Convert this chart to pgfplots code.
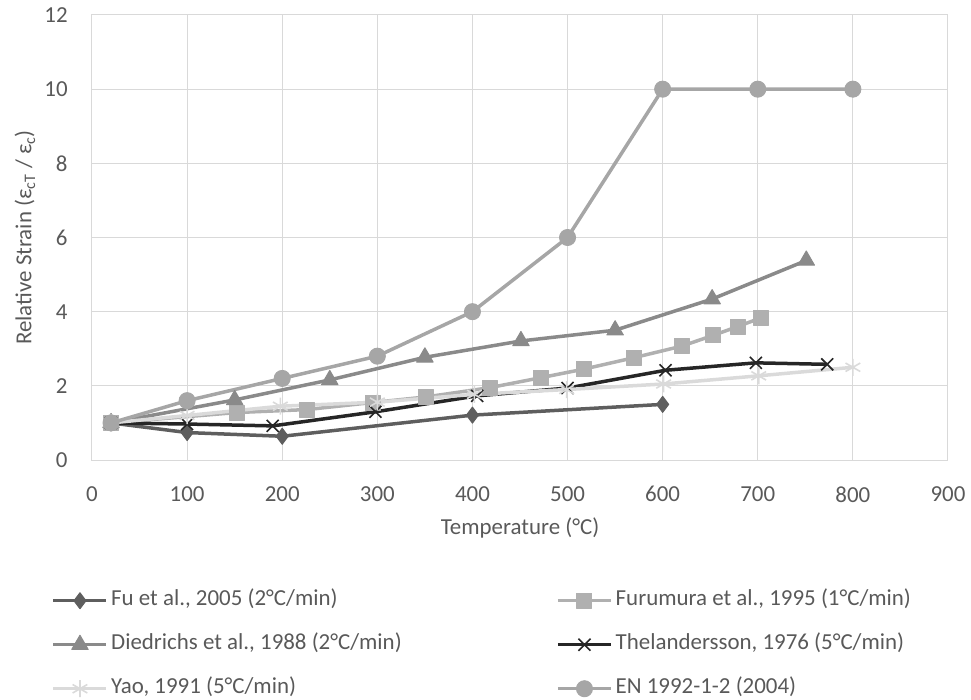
\documentclass[border=0pt]{standalone}
\usepackage{fontspec}
\setmainfont{Carlito}
\usepackage{pgfplots}
\pgfplotsset{compat=1.18}
\definecolor{cFu}{HTML}{5E5E5E}
\definecolor{cFur}{HTML}{B0B0B0}
\definecolor{cDie}{HTML}{8A8A8A}
\definecolor{cThe}{HTML}{262626}
\definecolor{cYao}{HTML}{DADADA}
\definecolor{cEN}{HTML}{A6A6A6}
\definecolor{gridc}{HTML}{D9D9D9}
\definecolor{labc}{HTML}{595959}
\begin{document}
\fontsize{23}{27}\selectfont
\begin{tikzpicture}
\useasboundingbox (-92bp,-240bp) rectangle (879bp,460bp);
\begin{axis}[
 at={(0,0)}, anchor=south west,
 scale only axis, width=856bp, height=445bp,
 xmin=0, xmax=900, ymin=0, ymax=12,
 xtick={0,100,...,900}, ytick={0,2,...,12},
 grid=major, grid style={color=gridc, line width=1bp},
 axis line style={color=gridc, line width=1bp},
 major tick length=0pt,
 tick label style={font=\fontsize{23}{27}\selectfont, text=labc},
 /pgf/number format/assume math mode=true,
 xticklabel style={yshift=-17bp},
 yticklabel style={xshift=-15bp},
 xlabel={Temperature (°C)},
 ylabel={Relative Strain (ε\textsubscript{cT} / ε\textsubscript{c})},
 xlabel style={at={(axis description cs:0.5,-0.1528)}, anchor=center, text=labc, font=\fontsize{23}{27}\selectfont},
 ylabel style={at={(axis description cs:-0.0783,0.5)}, anchor=center, text=labc, font=\fontsize{23}{27}\selectfont},
 line width=3.5bp,
 every axis plot/.append style={line join=round},
 legend columns=2,
 legend cell align=left,
 legend style={at={(axis description cs:-0.0491,-0.2876)}, anchor=north west, draw=none, fill=none,
   inner sep=0pt, row sep=22bp, column sep=0pt, font=\fontsize{23}{27}\selectfont,
   text=labc, nodes={inner xsep=3bp, inner ysep=0pt, text height=16bp, text depth=6bp}},
 legend image code/.code={\draw[mark repeat=2,mark phase=2] plot coordinates {(0bp,0bp) (26.5bp,0bp) (53bp,0bp)};},
]
\addplot[color=cFu, mark=diamond*, mark size=8bp, mark options={fill=cFu, line width=1bp}]
 coordinates {(20,1) (100,0.74) (200,0.64) (400,1.21) (600,1.5)};
\addlegendentry{\makebox[442bp][l]{Fu et al., 2005 (2°C/min)}}
\addplot[color=cFur, mark=square*, mark size=7.5bp, mark options={fill=cFur, line width=1bp}]
 coordinates {(20,1) (152,1.28) (226,1.36) (295,1.55) (351,1.7) (418,1.95) (472,2.22) (517,2.45) (570,2.76) (620,3.07) (653,3.36) (679,3.6) (703,3.83)};
\addlegendentry{Furumura et al., 1995 (1°C/min)}
\addplot[color=cDie, mark=triangle*, mark size=9.5bp, mark options={fill=cDie, line width=1bp}]
 coordinates {(20,1) (150,1.62) (250,2.16) (350,2.77) (451,3.21) (550,3.5) (652,4.34) (751,5.38)};
\addlegendentry{\makebox[442bp][l]{Diedrichs et al., 1988 (2°C/min)}}
\addplot[color=cThe, mark=x, mark size=8.5bp, mark options={line width=1.6bp}]
 coordinates {(20,1) (100,0.97) (190,0.92) (298,1.3) (405,1.73) (500,1.94) (603,2.42) (698,2.62) (773,2.58)};
\addlegendentry{Thelandersson, 1976 (5°C/min)}
\addplot[color=cYao, mark=asterisk, mark size=8.5bp, mark options={line width=1.6bp}]
 coordinates {(20,1) (100,1.2) (198,1.45) (300,1.56) (402,1.77) (499,1.9) (601,2.05) (701,2.27) (800,2.5)};
\addlegendentry{\makebox[442bp][l]{Yao, 1991 (5°C/min)}}
\addplot[color=cEN, mark=*, mark size=8bp, mark options={fill=cEN, line width=1bp}]
 coordinates {(20,1) (100,1.6) (200,2.2) (300,2.8) (400,4) (500,6) (600,10) (700,10) (800,10)};
\addlegendentry{EN 1992-1-2 (2004)}
\end{axis}
\end{tikzpicture}
\end{document}
